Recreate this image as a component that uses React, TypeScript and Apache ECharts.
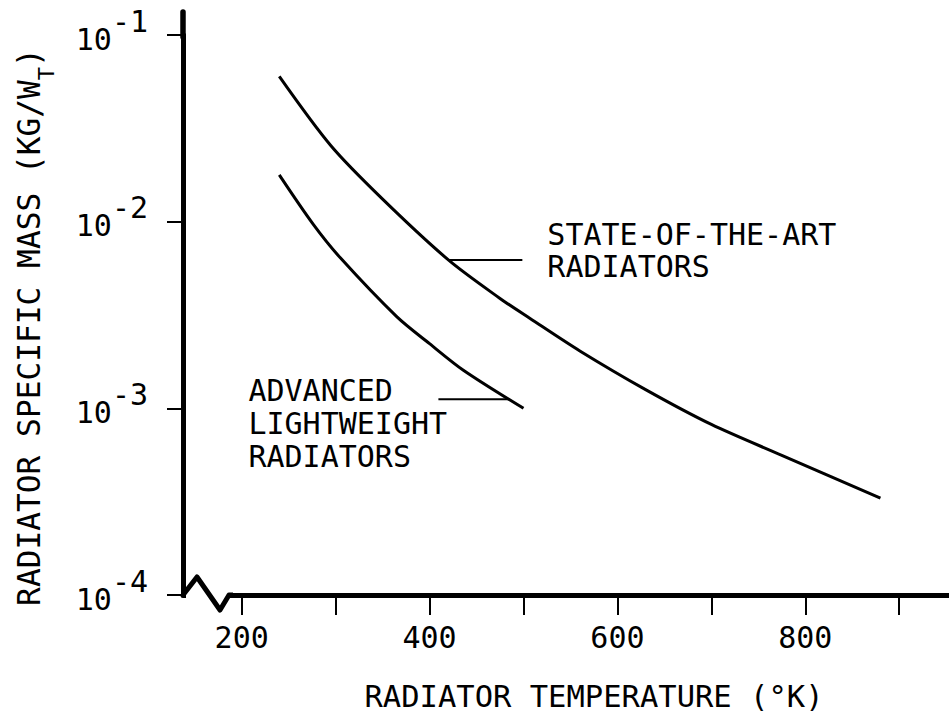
import React, { useEffect, useRef } from "react";
import * as echarts from "echarts";

// ---- data ----
const stateTemps = [240, 295, 350, 420, 475, 507, 560, 630, 700, 775, 880];
const stateMass = [0.06, 0.0255, 0.0132, 0.00624, 0.00388, 0.00303, 0.00203, 0.00126, 0.00082, 0.00056, 0.00033];
const advTemps = [240, 276, 305, 365, 400, 436, 500];
const advMass = [0.0178, 0.0097, 0.0064, 0.0031, 0.00222, 0.0016, 0.001];

const xTickValues = [200, 300, 400, 500, 600, 700, 800, 900];
const xLabelValues = [200, 400, 600, 800];
const yDecades = [1e-4, 1e-3, 1e-2, 1e-1];

const xRange = [137.5, 953];

// annotation anchors (points on the curves where the leader lines start)
const stateLeaderAt = [420, 0.00624];
const advLeaderAt = [485, 0.00112];

const stateLabelLines = ["STATE-OF-THE-ART", "RADIATORS"];
const advLabelLines = ["ADVANCED", "LIGHTWEIGHT", "RADIATORS"];
const xTitle = "RADIATOR TEMPERATURE (°K)";
const yTitleMain = "RADIATOR SPECIFIC MASS (KG/W";
const yTitleSub = "T";

const FONT = "'DejaVu Sans Mono', 'Liberation Mono', monospace";
const INK = "#000";

export default function App() {
  const ref = useRef<HTMLDivElement>(null);

  useEffect(() => {
    document.body.style.margin = "0";
    const chart = echarts.init(ref.current!, null, { renderer: "svg" });
    const yMin = yDecades[0];
    const yMax = yDecades[yDecades.length - 1];

    const option: any = {
      animation: false,
      backgroundColor: "#fff",
      grid: { left: 183, right: 0, top: 35, bottom: 118, containLabel: false },
      xAxis: {
        type: "value",
        min: xRange[0],
        max: xRange[1],
        axisLine: { show: true, lineStyle: { color: INK, width: 5 } },
        axisTick: {
          show: true,
          customValues: xTickValues,
          length: 20,
          lineStyle: { color: INK, width: 2 },
        },
        axisLabel: {
          customValues: xLabelValues,
          margin: 27,
          fontSize: 30,
          fontFamily: FONT,
          color: INK,
        },
        splitLine: { show: false },
      },
      yAxis: {
        type: "log",
        logBase: 10,
        min: yMin,
        max: yMax,
        axisLine: { show: true, lineStyle: { color: INK, width: 5 } },
        axisTick: { show: true, length: 16, lineStyle: { color: INK, width: 2 } },
        minorTick: { show: false },
        axisLabel: {
          margin: 35,
          padding: [0, 0, 10, 0],
          color: INK,
          formatter: (v: number) => {
            const e = Math.round(Math.log10(v));
            return `{b|10}{e|${e}}`;
          },
          rich: {
            b: { fontSize: 30, fontFamily: FONT, color: INK, lineHeight: 48, verticalAlign: "bottom" },
            e: { fontSize: 30, fontFamily: FONT, color: INK, lineHeight: 30, verticalAlign: "top" },
          },
        },
        splitLine: { show: false },
      },
      series: [
        {
          name: "State-of-the-Art Radiators",
          type: "line",
          data: stateTemps.map((t, i) => [t, stateMass[i]]),
          smooth: 0.3,
          showSymbol: false,
          silent: true,
          lineStyle: { color: INK, width: 3 },
        },
        {
          name: "Advanced Lightweight Radiators",
          type: "line",
          data: advTemps.map((t, i) => [t, advMass[i]]),
          smooth: 0.3,
          showSymbol: false,
          silent: true,
          lineStyle: { color: INK, width: 3 },
        },
      ],
    };
    chart.setOption(option);

    const px = (v: number[]) => chart.convertToPixel({ gridIndex: 0 }, v) as number[];
    const o = px([xRange[0], yMin]);
    const top = px([xRange[0], yMax]);
    const a = px(stateLeaderAt);
    const b = px(advLeaderAt);

    const label = (lines: string[], x: number, y: number, lh: number) => ({
      type: "text",
      x,
      y,
      z: 100,
      style: {
        text: lines.join("\n"),
        fontSize: 30,
        lineHeight: lh,
        fontFamily: FONT,
        fill: INK,
        align: "left",
        verticalAlign: "top",
      },
    });

    const graphic: any[] = [
      // y axis continues above the top decade
      {
        type: "line",
        z: 100,
        shape: { x1: o[0], y1: top[1] + 2, x2: o[0], y2: top[1] - 23 },
        style: { stroke: INK, lineWidth: 5.5, lineCap: "round" },
      },
      // axis break on the temperature axis
      {
        type: "rect",
        z: 100,
        shape: { x: o[0] + 3, y: o[1] - 5, width: 44, height: 10 },
        style: { fill: "#fff" },
      },
      {
        type: "polyline",
        z: 101,
        shape: {
          points: [
            [o[0], o[1]],
            [o[0] + 14, o[1] - 18],
            [o[0] + 37, o[1] + 15],
            [o[0] + 46, o[1]],
            [o[0] + 50, o[1]],
          ],
        },
        style: { stroke: INK, lineWidth: 5, fill: null, lineJoin: "round" },
      },
      // leader lines
      {
        type: "line",
        z: 100,
        shape: { x1: a[0], y1: a[1], x2: a[0] + 74, y2: a[1] },
        style: { stroke: INK, lineWidth: 2 },
      },
      {
        type: "line",
        z: 100,
        shape: { x1: b[0], y1: b[1], x2: b[0] - 71, y2: b[1] },
        style: { stroke: INK, lineWidth: 2 },
      },
      // annotation texts (one multi-line text each)
      label(stateLabelLines, a[0] + 99, a[1] - 41, 31.5),
      label(advLabelLines, b[0] - 261, b[1] - 25, 33),
      // axis titles
      {
        type: "text",
        x: 594,
        y: 711,
        z: 100,
        style: {
          text: xTitle,
          fontSize: 30.5,
          lineHeight: 30,
          fontFamily: FONT,
          fill: INK,
          align: "center",
          verticalAlign: "bottom",
        },
      },
      {
        type: "text",
        x: 57,
        y: 327,
        rotation: Math.PI / 2,
        z: 100,
        style: {
          text: `{m|${yTitleMain}}{sub|${yTitleSub}}{m|)}`,
          align: "center",
          verticalAlign: "bottom",
          rich: {
            m: { fontSize: 31.2, fontFamily: FONT, fill: INK, color: INK, verticalAlign: "bottom", padding: [0, 0, 13, 0] },
            sub: { fontSize: 22, fontFamily: FONT, fill: INK, color: INK, verticalAlign: "bottom" },
          },
        },
      },
    ];
    chart.setOption({ graphic });

    return () => chart.dispose();
  }, []);

  return (
    <div
      ref={ref}
      style={{ position: "fixed", left: 0, top: 0, width: 949, height: 713, background: "#fff" }}
    />
  );
}
